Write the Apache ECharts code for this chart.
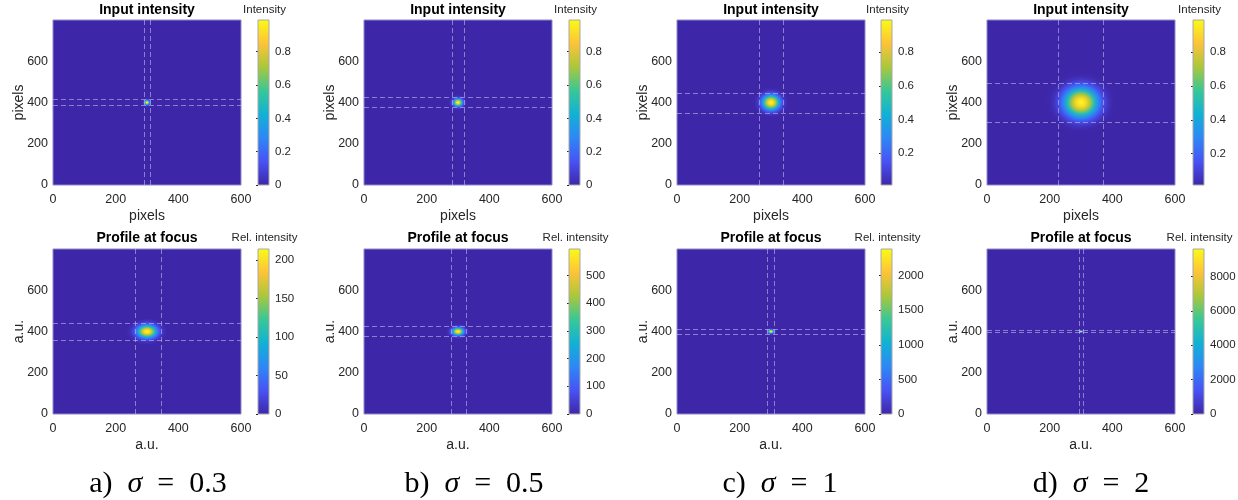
<!DOCTYPE html>
<html>
<head>
<meta charset="utf-8">
<title>Input intensity / Profile at focus</title>
<script src="https://cdn.jsdelivr.net/npm/echarts@6/dist/echarts.min.js"></script>
<style>
  html, body { margin: 0; background: #fff; }
  #chart { width: 1238px; height: 500px; }
</style>
</head>
<body>
<div id="chart"></div>
<script>
// captions under each column
const captionLetters = ["a)", "b)", "c)", "d)"];
const sigmaValues = ["0.3", "0.5", "1", "2"];

// image axes
const xTicks = [0, 200, 400, 600];
const yTicks = [0, 200, 400, 600];
const spotCenter = [300, 400];

// top row: input intensity
const inputMin = [0, 0, 0.012, 0.015];
const inputMax = [0.99, 0.99, 0.99, 0.99];
const inputTicks = [
  [0, 0.2, 0.4, 0.6, 0.8],
  [0, 0.2, 0.4, 0.6, 0.8],
  [0.2, 0.4, 0.6, 0.8],
  [0.2, 0.4, 0.6, 0.8],
];
const inputLinesX = [[290, 310], [282, 320], [264, 338], [228, 372]];
const inputLinesY = [[386, 415], [376, 424], [350, 447], [303, 495]];

// bottom row: profile at focus
const focusMin = [0, 0, 0, 0];
const focusMax = [214, 595, 2386, 9600];
const focusTicks = [
  [0, 50, 100, 150, 200],
  [0, 100, 200, 300, 400, 500],
  [0, 500, 1000, 1500, 2000],
  [0, 2000, 4000, 6000, 8000],
];
const focusLinesX = [[262, 344], [279, 327], [288, 311], [293, 307]];
const focusLinesY = [[359, 440], [377, 425], [388, 411], [394, 406]];

// radial fall-off of a spot
// (radius in units of the dashed-line half width, level relative to the peak)
const profileRadius = [0, 0.2, 0.4, 0.6, 0.8, 1.0, 1.2, 1.4, 1.6];
const profileLevel = [1, 0.92, 0.73, 0.49, 0.28, 0.135, 0.056, 0.02, 0];

// parula(8)
const parulaStops = ["#3e26a8", "#4852f4", "#2d87f7", "#11b1d6", "#37c897", "#abc739", "#fec338", "#f9fb15"];

function hexRgb(h) {
  return [parseInt(h.slice(1, 3), 16), parseInt(h.slice(3, 5), 16), parseInt(h.slice(5, 7), 16)];
}
function parula(t) {
  t = Math.max(0, Math.min(1, t));
  const n = parulaStops.length - 1;
  const k = Math.min(n - 1, Math.floor(t * n));
  const f = t * n - k;
  const a = hexRgb(parulaStops[k]), b = hexRgb(parulaStops[k + 1]);
  const c = a.map((v, j) => Math.round(v + (b[j] - v) * f));
  return "rgb(" + c.join(",") + ")";
}

const plotLeft = [53, 364, 677, 987];
const plotWidth = 188;
const rowTop = [20, 249];
const plotHeight = 165;
const cbLeft = [258, 569, 881, 1193];
const cbWidth = 11;

const axisColor = "#262626";
const sans = '"Liberation Sans", Arial, sans-serif';
const plain = (v) => String(v);

function renderSpot(params, api) {
  const c = api.coord([api.value(0), api.value(1)]);
  const s = api.size([api.value(2), api.value(3)]);
  const vmin = api.value(4), vmax = api.value(5), peak = api.value(6);
  const rMax = profileRadius[profileRadius.length - 1];
  const stops = profileRadius.map((r, k) => ({
    offset: r / rMax,
    color: parula((profileLevel[k] * peak - vmin) / (vmax - vmin)),
  }));
  return {
    type: "circle",
    shape: { cx: 0, cy: 0, r: 10 },
    x: c[0],
    y: c[1],
    scaleX: (s[0] * rMax) / 10,
    scaleY: (s[1] * rMax) / 10,
    style: { fill: { type: "radial", x: 0.5, y: 0.5, r: 0.5, colorStops: stops } },
  };
}

function renderBar(params, api) {
  const p0 = api.coord([0, api.value(0)]);
  const p1 = api.coord([1, api.value(1)]);
  return {
    type: "rect",
    shape: { x: p0[0], y: p1[1], width: p1[0] - p0[0], height: p0[1] - p1[1] },
    style: {
      fill: new echarts.graphic.LinearGradient(0, 1, 0, 0,
        parulaStops.map((c, k) => ({ offset: k / (parulaStops.length - 1), color: c }))),
      stroke: "#a8a8a8",
      lineWidth: 1,
    },
  };
}

const grid = [], xAxis = [], yAxis = [], series = [], texts = [];

const rows = [
  { name: "pixels", title: "Input intensity", cbTitle: "Intensity", min: inputMin, max: inputMax,
    ticks: inputTicks, lx: inputLinesX, ly: inputLinesY, titleY: 10 },
  { name: "a.u.", title: "Profile at focus", cbTitle: "Rel. intensity", min: focusMin, max: focusMax,
    ticks: focusTicks, lx: focusLinesX, ly: focusLinesY, titleY: 238 },
];

rows.forEach((row, r) => {
  for (let i = 0; i < 4; i++) {
    const g = grid.length;
    // image panel
    grid.push({
      left: plotLeft[i], top: rowTop[r], width: plotWidth, height: plotHeight,
      outerBoundsMode: "none",
      show: true, backgroundColor: parulaStops[0], borderColor: "#8d88c8", borderWidth: 1,
    });
    xAxis.push({
      gridIndex: g, type: "value", min: 0, max: 600,
      name: row.name, nameLocation: "middle", nameGap: 24, nameMoveOverlap: false,
      nameTextStyle: { color: axisColor, fontSize: 14, fontFamily: sans },
      axisLine: { show: false }, axisTick: { show: false }, splitLine: { show: false },
      axisLabel: { customValues: xTicks, formatter: plain, color: axisColor, fontSize: 12.5, fontFamily: sans, margin: 8 },
    });
    yAxis.push({
      gridIndex: g, type: "value", min: 0, max: 800,
      name: row.name, nameLocation: "middle", nameGap: 27, nameMoveOverlap: false,
      nameTextStyle: { color: axisColor, fontSize: 14, fontFamily: sans },
      axisLine: { show: false }, axisTick: { show: false }, splitLine: { show: false },
      axisLabel: { customValues: yTicks, formatter: plain, color: axisColor, fontSize: 12.5, fontFamily: sans, margin: 5 },
    });
    const hw = [(row.lx[i][1] - row.lx[i][0]) / 2, (row.ly[i][1] - row.ly[i][0]) / 2];
    series.push({
      type: "custom", xAxisIndex: g, yAxisIndex: g, clip: true,
      renderItem: renderSpot,
      data: [[spotCenter[0], spotCenter[1], hw[0], hw[1], row.min[i], row.max[i], row.max[i]]],
    });
    series.push({
      type: "line", xAxisIndex: g, yAxisIndex: g, data: [],
      markLine: {
        silent: true, symbol: ["none", "none"], label: { show: false },
        lineStyle: { type: [5, 3], color: "rgba(205,200,240,0.55)", width: 1 },
        data: row.lx[i].map((v) => ({ xAxis: v })).concat(row.ly[i].map((v) => ({ yAxis: v }))),
      },
    });
  }
});

rows.forEach((row, r) => {
  for (let i = 0; i < 4; i++) {
    const g = grid.length;
    // colour bar
    grid.push({ left: cbLeft[i], top: rowTop[r], width: cbWidth, height: plotHeight, outerBoundsMode: "none" });
    xAxis.push({ gridIndex: g, type: "value", min: 0, max: 1, show: false });
    yAxis.push({
      gridIndex: g, type: "value", position: "right", min: row.min[i], max: row.max[i],
      axisLine: { show: false }, splitLine: { show: false },
      axisTick: { show: true, inside: true, length: 2, customValues: row.ticks[i], lineStyle: { color: axisColor } },
      axisLabel: { customValues: row.ticks[i], formatter: plain, color: axisColor, fontSize: 11.5, fontFamily: sans, margin: 6 },
    });
    series.push({
      type: "custom", xAxisIndex: g, yAxisIndex: g, renderItem: renderBar,
      data: [[row.min[i], row.max[i]]],
    });
    texts.push({
      type: "text", x: plotLeft[i] + plotWidth / 2, y: row.titleY,
      style: { text: row.title, font: "bold 14px " + sans, fill: "#000",
        align: "center", verticalAlign: "middle", textAlign: "center", textVerticalAlign: "middle" },
    });
    texts.push({
      type: "text", x: cbLeft[i] + cbWidth / 2 + 1, y: row.titleY - 0.5,
      style: { text: row.cbTitle, font: "11.5px " + sans, fill: axisColor,
        align: "center", verticalAlign: "middle", textAlign: "center", textVerticalAlign: "middle" },
    });
  }
});

const captionX = [158, 474, 780, 1091];
const serif = '"Liberation Serif", "DejaVu Serif", serif';
captionLetters.forEach((c, i) => {
  texts.push({
    type: "text", x: captionX[i], y: 484,
    style: {
      text: "{r|" + c + "}\u2002{i|\u03c3}\u2002{r|=}\u2002{r|" + sigmaValues[i] + "}",
      font: "30px " + serif, fill: "#000",
      align: "center", verticalAlign: "middle", textAlign: "center", textVerticalAlign: "middle",
      rich: { r: { font: "30px " + serif }, i: { font: "italic 30px " + serif } },
    },
  });
});

const chart = echarts.init(document.getElementById("chart"));
chart.setOption({
  animation: false,
  backgroundColor: "#fff",
  grid, xAxis, yAxis, series,
  graphic: { elements: texts },
});
</script>
</body>
</html>
